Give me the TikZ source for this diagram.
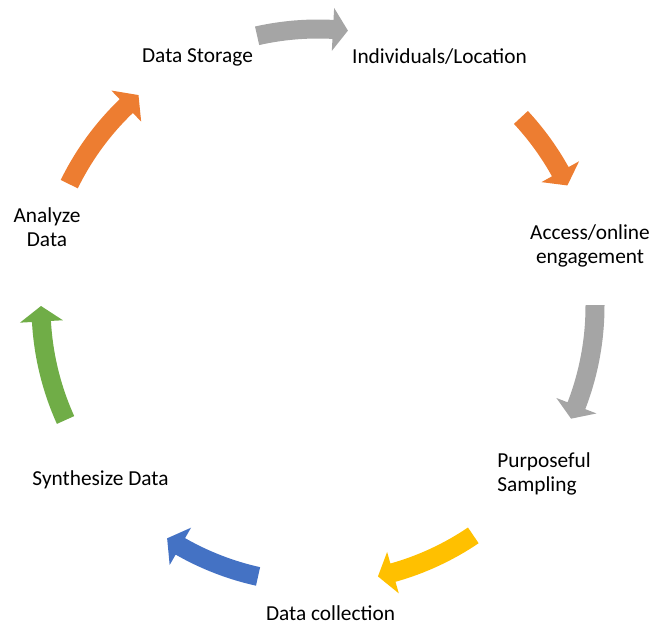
\documentclass[tikz,border=0pt]{standalone}
\usepackage{fontspec}
\setmainfont{Carlito}
\definecolor{accgray}{HTML}{A5A5A5}
\definecolor{accorange}{HTML}{ED7D31}
\definecolor{accyellow}{HTML}{FFC000}
\definecolor{accblue}{HTML}{4472C4}
\definecolor{accgreen}{HTML}{70AD47}

\begin{document}
\begin{tikzpicture}[x=0.75pt,y=0.75pt,
  lbl/.style={font=\fontsize{16}{18}\selectfont, align=center, inner sep=0pt}]
  \useasboundingbox (0,0) rectangle (652,622);
  % steps of the cycle
  \node[lbl] (storage) at (197.5,565) {Data Storage};
  \node[lbl] (individuals) at (439.5,565) {Individuals/Location};
  \node[lbl] (access) at (590,376) {Access/online\\engagement};
  \node[lbl, align=left, anchor=west] (sampling) at (497,148) {Purposeful\\Sampling};
  \node[lbl, anchor=south] (collection) at (330.5,1.5) {Data collection};
  \node[lbl] (synthesize) at (100.5,142) {Synthesize Data};
  \node[lbl] (analyze) at (47,395) {Analyze\\Data};
  % curved block arrows: tail angle / head base angle / tip angle / colour
  \begin{scope}[shift={(318,316)}]
    \foreach \tl/\bs/\tp/\col in {102.7/86.9/83.8/accgray, 42.9/29.0/25.8/accorange,
        0.2/-21.1/-24.0/accgray, -55.9/-74.3/-77.5/accyellow,
        -102.5/-119.8/-123.0/accblue, -155.7/-176.8/-180.0/accgreen,
        153.9/133.8/130.4/accorange}
      \fill[\col] (\tl:286.5) arc[start angle=\tl, end angle=\bs, radius=286.5]
        -- (\bs:298.5) -- (\tp:277) -- (\bs:255.5) -- (\bs:267.5)
        arc[start angle=\bs, end angle=\tl, radius=267.5] -- cycle;
  \end{scope}
\end{tikzpicture}
\end{document}
